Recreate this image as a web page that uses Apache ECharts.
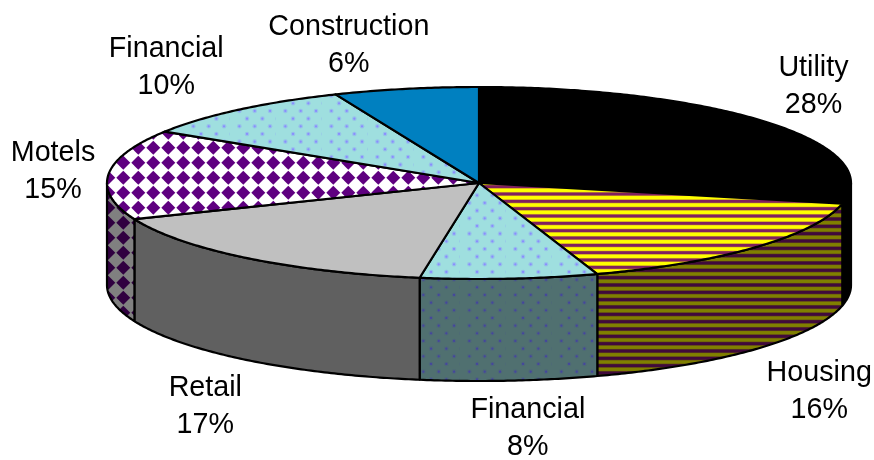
<!DOCTYPE html>
<html><head><meta charset="utf-8">
<style>html,body{margin:0;padding:0;background:#fff}#c{width:874px;height:460px}</style>
<script src="https://cdn.jsdelivr.net/npm/echarts@6/dist/echarts.min.js"></script>
</head><body><div id="c"></div>
<script>
// Data
const categories = ['Utility','Housing','Financial','Retail','Motels','Financial','Construction'];
const shares = [28.45,16.4,7.7,16.3,15.15,9.7,6.3];
const shownPercents = [28,16,8,17,15,10,6];

// Layout of the tilted disc
const CX=479, CY=183, RX=372, RY=96, DEPTH=102;
const labelNudge=[[44.5,-36],[63.5,144],[18.5,150],[-42,148],[-55.5,-3],[-73,-42],[-57,-43]];

function tile(w,h,bg,draw){const c=document.createElement('canvas');c.width=w;c.height=h;const g=c.getContext('2d');g.fillStyle=bg;g.fillRect(0,0,w,h);draw(g);return {image:c,repeat:'repeat'};}
function stripes(a,b,edge,phase){return tile(8,22,b,g=>{const p=22/3;for(let k=-1;k<4;k++){const y=k*p+phase;g.fillStyle=edge;g.fillRect(0,y-2.2,8,4.4);g.fillStyle=a;g.fillRect(0,y-1.6,8,3.2);}});}
function dots(bg,dot,halo){return tile(46,46,bg,g=>{const p=46/3;for(let r=-1;r<8;r++)for(let k=-1;k<5;k++){const x=24.7+k*p+(r%2?p/2:0),y=34.3-46+r*p/2;g.fillStyle=dot;g.globalAlpha=halo;g.beginPath();g.arc(x,y,2.3,0,7);g.fill();g.globalAlpha=1;g.beginPath();g.arc(x,y,1.1,0,7);g.fill();}});}
function diamonds(bg,col){return tile(15,15,bg,g=>{g.fillStyle=col;for(let i=-1;i<2;i++)for(let j=-1;j<2;j++){const x=3.3+i*15,y=12.7+j*15,d=7;g.beginPath();g.moveTo(x-d,y);g.lineTo(x,y-d);g.lineTo(x+d,y);g.lineTo(x,y+d);g.closePath();g.fill();}});}

const topFill=['#000',stripes('#ffff00','#80205f','#d8b020',7),dots('#9fdfdf','#8a8cff',.35),'#c0c0c0',diamonds('#fff','#5f0080'),dots('#9fdfdf','#8a8cff',.35),'#0080c0'];
const sideFill=['#000',stripes('#808000','#400a3c','#604818',2.67),dots('#507070','#4545a0',.2),'#606060',diamonds('#808080','#300040'),dots('#507070','#4545a0',.2),'#004060'];

const total=shares.reduce((a,b)=>a+b,0);
const cum=[0];shares.forEach(v=>cum.push(cum[cum.length-1]+v));
const ang=v=>v/total*2*Math.PI;
const pt=(a,dz)=>[CX+RX*Math.sin(a),CY-RY*Math.cos(a)+(dz||0)];
function arc(a0,a1,dz){const n=Math.max(2,Math.ceil(Math.abs(a1-a0)/0.01));const o=[];for(let i=0;i<=n;i++)o.push(pt(a0+(a1-a0)*i/n,dz));return o;}

const chart=echarts.init(document.getElementById('c'),null,{renderer:'canvas'});
const rows=shares.map((v,i)=>({name:categories[i],value:[v,i]}));
chart.setOption({
 animation:false,
 series:[
 {type:'custom',coordinateSystem:'none',z:1,silent:true,data:rows,renderItem(p,api){
   const i=api.value(1);
   const a0=Math.max(ang(cum[i]),Math.PI/2),a1=Math.min(ang(cum[i+1]),Math.PI*1.5);
   if(a1<=a0)return {type:'group',children:[]};
   const pts=arc(a0,a1,0).concat(arc(a1,a0,DEPTH));
   return {type:'polygon',shape:{points:pts},style:{fill:sideFill[i],stroke:'#000',lineWidth:2.2,lineJoin:'round'}};
 }},
 {type:'custom',coordinateSystem:'none',z:2,silent:true,data:rows,renderItem(p,api){
   const i=api.value(1);
   const a0=ang(cum[i]),a1=ang(cum[i+1]);
   const pts=[[CX,CY]].concat(arc(a0,a1,0));
   const mid=pt((a0+a1)/2,0);
   return {type:'group',children:[
     {type:'polygon',shape:{points:pts},style:{fill:topFill[i],stroke:'#000',lineWidth:2.2,lineJoin:'round'}},
     {type:'text',z2:10,style:{text:categories[i]+'\n'+shownPercents[i]+'%',x:mid[0]+labelNudge[i][0],y:mid[1]+labelNudge[i][1],align:'center',verticalAlign:'middle',fontFamily:'"Liberation Sans",Arial,sans-serif',fontSize:28.7,lineHeight:37,fill:'#000'}}
   ]};
 }}
 ]
});
</script></body></html>
